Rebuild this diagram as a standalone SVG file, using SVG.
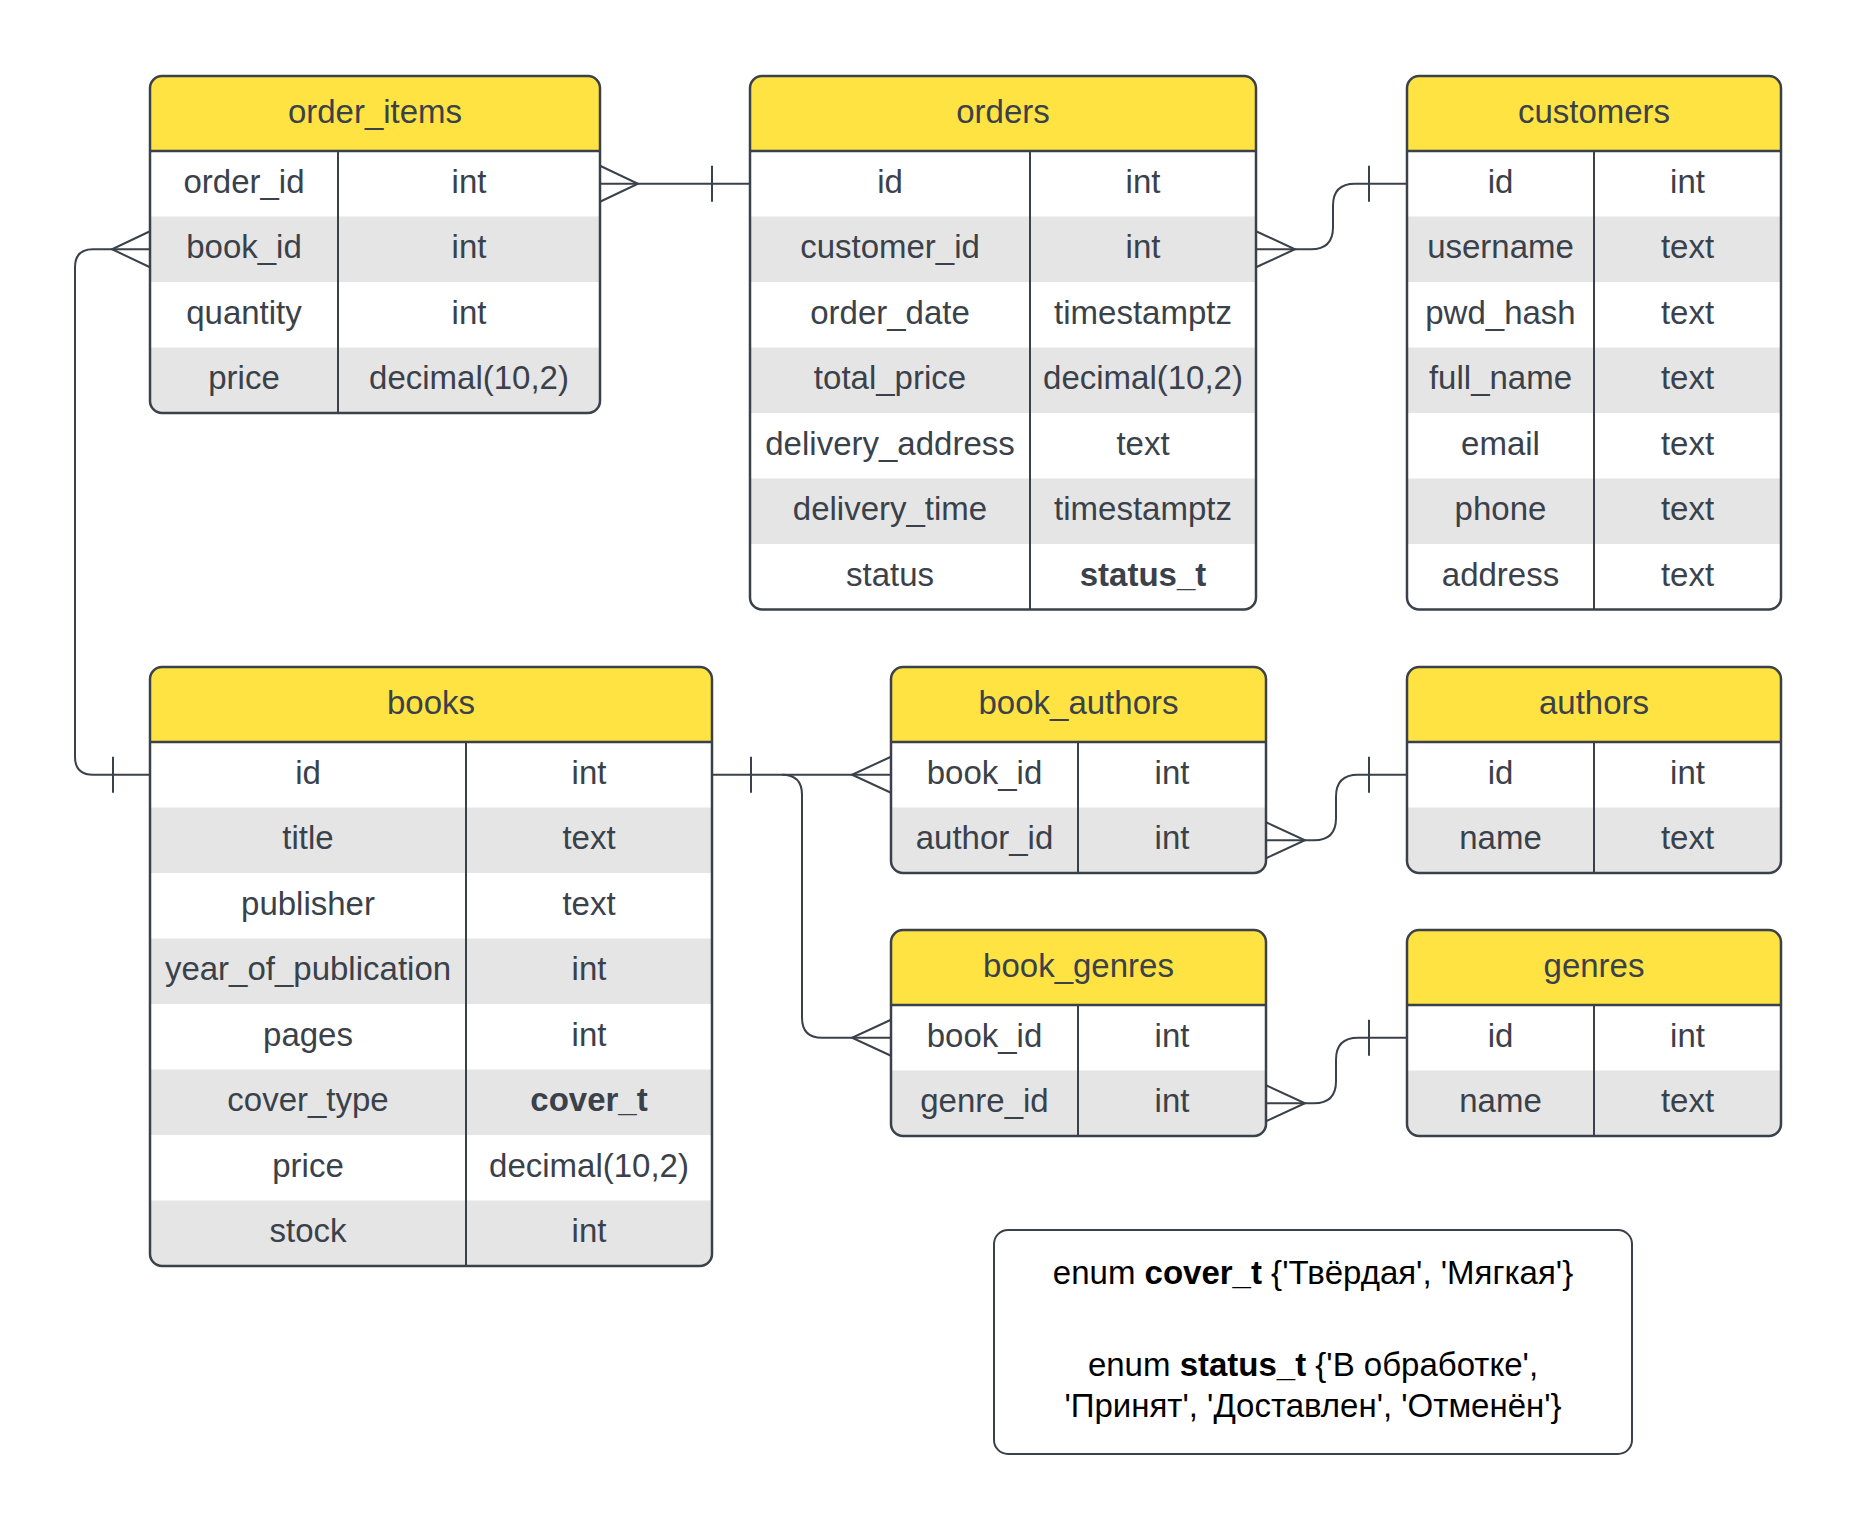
<svg xmlns="http://www.w3.org/2000/svg" width="1858" height="1530" viewBox="0 0 1858 1530">
  <style>
    .bg { fill: #ffffff; }
    .hdr { fill: #ffe342; }
    .alt { fill: #e5e5e5; }
    .outline { fill: none; stroke: #3a414a; stroke-width: 2.5; }
    .sep { stroke: #3a414a; stroke-width: 2.5; }
    .div { stroke: #3a414a; stroke-width: 2; }
    .t { font-family: "Liberation Sans", Arial, sans-serif; font-size: 33px; fill: #3a414a; text-anchor: middle; }
    .b { font-weight: bold; }
    .note { font-family: "Liberation Sans", Arial, sans-serif; font-size: 33px; fill: #000000; text-anchor: middle; }
    .conn { fill: none; stroke: #3a414a; stroke-width: 2; }
  </style>
  <defs>
    <clipPath id="clip-order_items"><rect x="150" y="76" width="450" height="337" rx="12"/></clipPath>
    <clipPath id="clip-orders"><rect x="750" y="76" width="506" height="533.5" rx="12"/></clipPath>
    <clipPath id="clip-customers"><rect x="1407" y="76" width="374" height="533.5" rx="12"/></clipPath>
    <clipPath id="clip-books"><rect x="150" y="667" width="562" height="599" rx="12"/></clipPath>
    <clipPath id="clip-book_authors"><rect x="891" y="667" width="375" height="206" rx="12"/></clipPath>
    <clipPath id="clip-authors"><rect x="1407" y="667" width="374" height="206" rx="12"/></clipPath>
    <clipPath id="clip-book_genres"><rect x="891" y="930" width="375" height="206" rx="12"/></clipPath>
    <clipPath id="clip-genres"><rect x="1407" y="930" width="374" height="206" rx="12"/></clipPath>
  </defs>

  <rect x="0" y="0" width="1858" height="1530" fill="#ffffff"/>

  <!-- Relationship lines -->
  <g id="connectors">
    <!-- order_items.order_id >| orders.id -->
    <path class="conn" d="M600,183.75 H750"/>
    <path class="conn" d="M600,165.75 L638,183.75 L600,201.75"/>
    <path class="conn" d="M712,165.75 V201.75"/>

    <!-- order_items.book_id >| books.id -->
    <path class="conn" d="M150,249.25 H93 Q75,249.25 75,267.25 V756.75 Q75,774.75 93,774.75 H150"/>
    <path class="conn" d="M150,231.25 L112,249.25 L150,267.25"/>
    <path class="conn" d="M113,756.75 V792.75"/>

    <!-- orders.customer_id >| customers.id -->
    <path class="conn" d="M1256,249.25 H1311 Q1333,249.25 1333,227.25 V205.75 Q1333,183.75 1355,183.75 H1407"/>
    <path class="conn" d="M1256,231.25 L1295,249.25 L1256,267.25"/>
    <path class="conn" d="M1369,165.75 V201.75"/>

    <!-- books.id |< book_authors.book_id and book_genres.book_id -->
    <path class="conn" d="M712,774.75 H891"/>
    <path class="conn" d="M751,756.75 V792.75"/>
    <path class="conn" d="M891,756.75 L852,774.75 L891,792.75"/>
    <path class="conn" d="M782,774.75 Q802,774.75 802,794.75 V1017.75 Q802,1037.75 822,1037.75 H891"/>
    <path class="conn" d="M891,1019.75 L852,1037.75 L891,1055.75"/>

    <!-- book_authors.author_id >| authors.id -->
    <path class="conn" d="M1266,840.25 H1314 Q1336,840.25 1336,818.25 V796.75 Q1336,774.75 1358,774.75 H1407"/>
    <path class="conn" d="M1266,822.25 L1305,840.25 L1266,858.25"/>
    <path class="conn" d="M1369,756.75 V792.75"/>

    <!-- book_genres.genre_id >| genres.id -->
    <path class="conn" d="M1266,1103.25 H1314 Q1336,1103.25 1336,1081.25 V1059.75 Q1336,1037.75 1358,1037.75 H1407"/>
    <path class="conn" d="M1266,1085.25 L1305,1103.25 L1266,1121.25"/>
    <path class="conn" d="M1369,1019.75 V1055.75"/>
  </g>

  <!-- order_items -->
  <g id="order_items">
    <g clip-path="url(#clip-order_items)">
      <rect class="bg" x="150" y="76" width="450" height="337"/>
      <rect class="hdr" x="150" y="76" width="450" height="75"/>
      <rect class="alt" x="150" y="216.5" width="450" height="65.5"/>
      <rect class="alt" x="150" y="347.5" width="450" height="65.5"/>
    </g>
    <line class="sep" x1="150" y1="151" x2="600" y2="151"/>
    <line class="div" x1="338" y1="151" x2="338" y2="413"/>
    <rect class="outline" x="150" y="76" width="450" height="337" rx="12"/>
    <text class="t" x="375" y="122.5">order_items</text>
    <text class="t" x="244" y="192.75">order_id</text><text class="t" x="469" y="192.75">int</text>
    <text class="t" x="244" y="258.25">book_id</text><text class="t" x="469" y="258.25">int</text>
    <text class="t" x="244" y="323.75">quantity</text><text class="t" x="469" y="323.75">int</text>
    <text class="t" x="244" y="389.25">price</text><text class="t" x="469" y="389.25">decimal(10,2)</text>
  </g>

  <!-- orders -->
  <g id="orders">
    <g clip-path="url(#clip-orders)">
      <rect class="bg" x="750" y="76" width="506" height="533.5"/>
      <rect class="hdr" x="750" y="76" width="506" height="75"/>
      <rect class="alt" x="750" y="216.5" width="506" height="65.5"/>
      <rect class="alt" x="750" y="347.5" width="506" height="65.5"/>
      <rect class="alt" x="750" y="478.5" width="506" height="65.5"/>
    </g>
    <line class="sep" x1="750" y1="151" x2="1256" y2="151"/>
    <line class="div" x1="1030" y1="151" x2="1030" y2="609.5"/>
    <rect class="outline" x="750" y="76" width="506" height="533.5" rx="12"/>
    <text class="t" x="1003" y="122.5">orders</text>
    <text class="t" x="890" y="192.75">id</text><text class="t" x="1143" y="192.75">int</text>
    <text class="t" x="890" y="258.25">customer_id</text><text class="t" x="1143" y="258.25">int</text>
    <text class="t" x="890" y="323.75">order_date</text><text class="t" x="1143" y="323.75">timestamptz</text>
    <text class="t" x="890" y="389.25">total_price</text><text class="t" x="1143" y="389.25">decimal(10,2)</text>
    <text class="t" x="890" y="454.75">delivery_address</text><text class="t" x="1143" y="454.75">text</text>
    <text class="t" x="890" y="520.25">delivery_time</text><text class="t" x="1143" y="520.25">timestamptz</text>
    <text class="t" x="890" y="585.75">status</text><text class="t b" x="1143" y="585.75">status_t</text>
  </g>

  <!-- customers -->
  <g id="customers">
    <g clip-path="url(#clip-customers)">
      <rect class="bg" x="1407" y="76" width="374" height="533.5"/>
      <rect class="hdr" x="1407" y="76" width="374" height="75"/>
      <rect class="alt" x="1407" y="216.5" width="374" height="65.5"/>
      <rect class="alt" x="1407" y="347.5" width="374" height="65.5"/>
      <rect class="alt" x="1407" y="478.5" width="374" height="65.5"/>
    </g>
    <line class="sep" x1="1407" y1="151" x2="1781" y2="151"/>
    <line class="div" x1="1594" y1="151" x2="1594" y2="609.5"/>
    <rect class="outline" x="1407" y="76" width="374" height="533.5" rx="12"/>
    <text class="t" x="1594" y="122.5">customers</text>
    <text class="t" x="1500.5" y="192.75">id</text><text class="t" x="1687.5" y="192.75">int</text>
    <text class="t" x="1500.5" y="258.25">username</text><text class="t" x="1687.5" y="258.25">text</text>
    <text class="t" x="1500.5" y="323.75">pwd_hash</text><text class="t" x="1687.5" y="323.75">text</text>
    <text class="t" x="1500.5" y="389.25">full_name</text><text class="t" x="1687.5" y="389.25">text</text>
    <text class="t" x="1500.5" y="454.75">email</text><text class="t" x="1687.5" y="454.75">text</text>
    <text class="t" x="1500.5" y="520.25">phone</text><text class="t" x="1687.5" y="520.25">text</text>
    <text class="t" x="1500.5" y="585.75">address</text><text class="t" x="1687.5" y="585.75">text</text>
  </g>

  <!-- books -->
  <g id="books">
    <g clip-path="url(#clip-books)">
      <rect class="bg" x="150" y="667" width="562" height="599"/>
      <rect class="hdr" x="150" y="667" width="562" height="75"/>
      <rect class="alt" x="150" y="807.5" width="562" height="65.5"/>
      <rect class="alt" x="150" y="938.5" width="562" height="65.5"/>
      <rect class="alt" x="150" y="1069.5" width="562" height="65.5"/>
      <rect class="alt" x="150" y="1200.5" width="562" height="65.5"/>
    </g>
    <line class="sep" x1="150" y1="742" x2="712" y2="742"/>
    <line class="div" x1="466" y1="742" x2="466" y2="1266"/>
    <rect class="outline" x="150" y="667" width="562" height="599" rx="12"/>
    <text class="t" x="431" y="713.5">books</text>
    <text class="t" x="308" y="783.75">id</text><text class="t" x="589" y="783.75">int</text>
    <text class="t" x="308" y="849.25">title</text><text class="t" x="589" y="849.25">text</text>
    <text class="t" x="308" y="914.75">publisher</text><text class="t" x="589" y="914.75">text</text>
    <text class="t" x="308" y="980.25">year_of_publication</text><text class="t" x="589" y="980.25">int</text>
    <text class="t" x="308" y="1045.75">pages</text><text class="t" x="589" y="1045.75">int</text>
    <text class="t" x="308" y="1111.25">cover_type</text><text class="t b" x="589" y="1111.25">cover_t</text>
    <text class="t" x="308" y="1176.75">price</text><text class="t" x="589" y="1176.75">decimal(10,2)</text>
    <text class="t" x="308" y="1242.25">stock</text><text class="t" x="589" y="1242.25">int</text>
  </g>

  <!-- book_authors -->
  <g id="book_authors">
    <g clip-path="url(#clip-book_authors)">
      <rect class="bg" x="891" y="667" width="375" height="206"/>
      <rect class="hdr" x="891" y="667" width="375" height="75"/>
      <rect class="alt" x="891" y="807.5" width="375" height="65.5"/>
    </g>
    <line class="sep" x1="891" y1="742" x2="1266" y2="742"/>
    <line class="div" x1="1078" y1="742" x2="1078" y2="873"/>
    <rect class="outline" x="891" y="667" width="375" height="206" rx="12"/>
    <text class="t" x="1078.5" y="713.5">book_authors</text>
    <text class="t" x="984.5" y="783.75">book_id</text><text class="t" x="1172" y="783.75">int</text>
    <text class="t" x="984.5" y="849.25">author_id</text><text class="t" x="1172" y="849.25">int</text>
  </g>

  <!-- authors -->
  <g id="authors">
    <g clip-path="url(#clip-authors)">
      <rect class="bg" x="1407" y="667" width="374" height="206"/>
      <rect class="hdr" x="1407" y="667" width="374" height="75"/>
      <rect class="alt" x="1407" y="807.5" width="374" height="65.5"/>
    </g>
    <line class="sep" x1="1407" y1="742" x2="1781" y2="742"/>
    <line class="div" x1="1594" y1="742" x2="1594" y2="873"/>
    <rect class="outline" x="1407" y="667" width="374" height="206" rx="12"/>
    <text class="t" x="1594" y="713.5">authors</text>
    <text class="t" x="1500.5" y="783.75">id</text><text class="t" x="1687.5" y="783.75">int</text>
    <text class="t" x="1500.5" y="849.25">name</text><text class="t" x="1687.5" y="849.25">text</text>
  </g>

  <!-- book_genres -->
  <g id="book_genres">
    <g clip-path="url(#clip-book_genres)">
      <rect class="bg" x="891" y="930" width="375" height="206"/>
      <rect class="hdr" x="891" y="930" width="375" height="75"/>
      <rect class="alt" x="891" y="1070.5" width="375" height="65.5"/>
    </g>
    <line class="sep" x1="891" y1="1005" x2="1266" y2="1005"/>
    <line class="div" x1="1078" y1="1005" x2="1078" y2="1136"/>
    <rect class="outline" x="891" y="930" width="375" height="206" rx="12"/>
    <text class="t" x="1078.5" y="976.5">book_genres</text>
    <text class="t" x="984.5" y="1046.75">book_id</text><text class="t" x="1172" y="1046.75">int</text>
    <text class="t" x="984.5" y="1112.25">genre_id</text><text class="t" x="1172" y="1112.25">int</text>
  </g>

  <!-- genres -->
  <g id="genres">
    <g clip-path="url(#clip-genres)">
      <rect class="bg" x="1407" y="930" width="374" height="206"/>
      <rect class="hdr" x="1407" y="930" width="374" height="75"/>
      <rect class="alt" x="1407" y="1070.5" width="374" height="65.5"/>
    </g>
    <line class="sep" x1="1407" y1="1005" x2="1781" y2="1005"/>
    <line class="div" x1="1594" y1="1005" x2="1594" y2="1136"/>
    <rect class="outline" x="1407" y="930" width="374" height="206" rx="12"/>
    <text class="t" x="1594" y="976.5">genres</text>
    <text class="t" x="1500.5" y="1046.75">id</text><text class="t" x="1687.5" y="1046.75">int</text>
    <text class="t" x="1500.5" y="1112.25">name</text><text class="t" x="1687.5" y="1112.25">text</text>
  </g>

  <!-- enum type definitions -->
  <g id="enums">
    <rect x="994" y="1230" width="638" height="224" rx="14" fill="#ffffff" stroke="#3a414a" stroke-width="2"/>
    <text class="note" x="1313" y="1284">enum <tspan font-weight="bold">cover_t</tspan> {'Твёрдая', 'Мягкая'}</text>
    <text class="note" x="1313" y="1376">enum <tspan font-weight="bold">status_t</tspan> {'В обработке',</text>
    <text class="note" x="1313" y="1417">'Принят', 'Доставлен', 'Отменён'}</text>
  </g>
</svg>
